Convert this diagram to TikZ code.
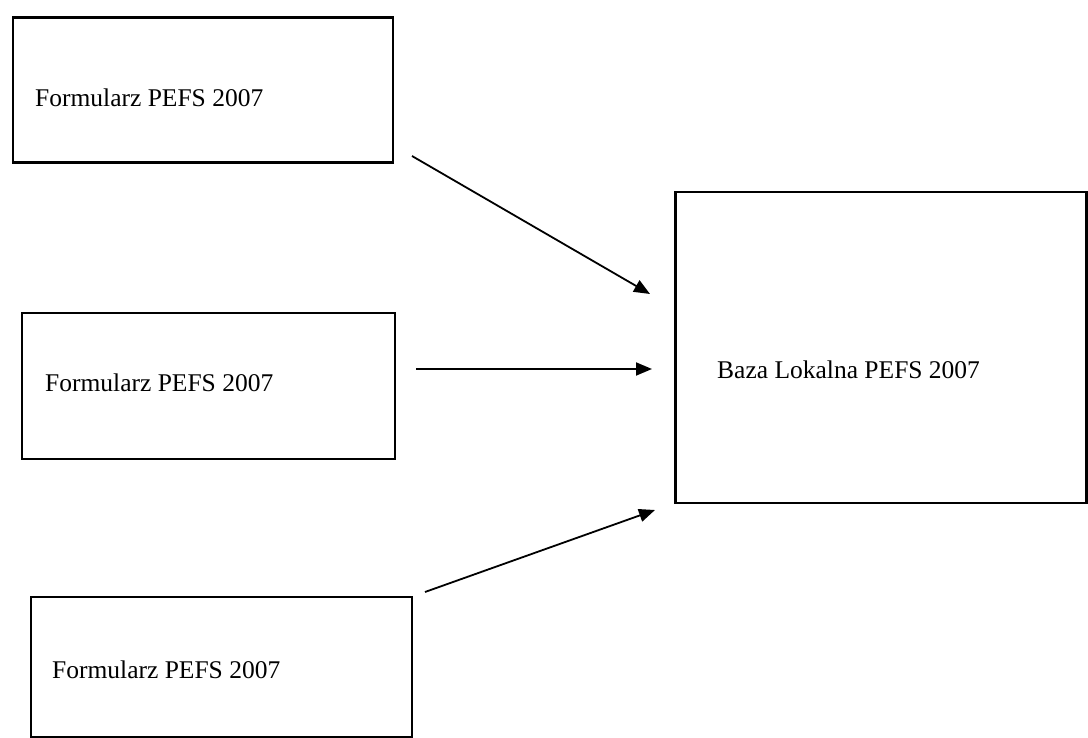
\documentclass[tikz,border=0pt]{standalone}
\usepackage{fontspec}
\setmainfont{Liberation Serif}
\usetikzlibrary{arrows.meta}
\begin{document}
\begin{tikzpicture}[x=1pt,y=-1pt,
  box/.style={draw=black,line width=2.4pt,rectangle,inner sep=0pt},
  lbl/.style={anchor=base west,inner sep=0pt,font=\fontsize{25.5}{30}\selectfont},
  conn/.style={line width=1.8pt,-{Triangle[length=16pt,width=13pt]}}]
\useasboundingbox (0,0) rectangle (1088,738);
\fill[white] (0,0) rectangle (1088,738);
% boxes
\node[box,minimum width=380pt,minimum height=145pt] (b1) at (203,90) {};
\node[box,minimum width=373pt,minimum height=146pt] (b2) at (208.5,386) {};
\node[box,minimum width=381pt,minimum height=140pt] (b3) at (221.5,667) {};
\node[box,minimum width=411pt,minimum height=311pt] (db) at (881,347.5) {};
% labels
\node[lbl] (t1) at (35,107) {Formularz PEFS 2007};
\node[lbl] (t2) at (45,391) {Formularz PEFS 2007};
\node[lbl] (t3) at (52,678) {Formularz PEFS 2007};
\node[lbl] (t4) at (717,378) {Baza Lokalna PEFS 2007};
% connector ends
\coordinate (a1s) at (412,156);
\coordinate (a1e) at (650,294);
\coordinate (a2s) at (416,369);
\coordinate (a2e) at (652,369);
\coordinate (a3s) at (425,592);
\coordinate (a3e) at (655,510);
\draw[conn] (a1s) -- (a1e);
\draw[conn] (a2s) -- (a2e);
\draw[conn] (a3s) -- (a3e);
\end{tikzpicture}
\end{document}
